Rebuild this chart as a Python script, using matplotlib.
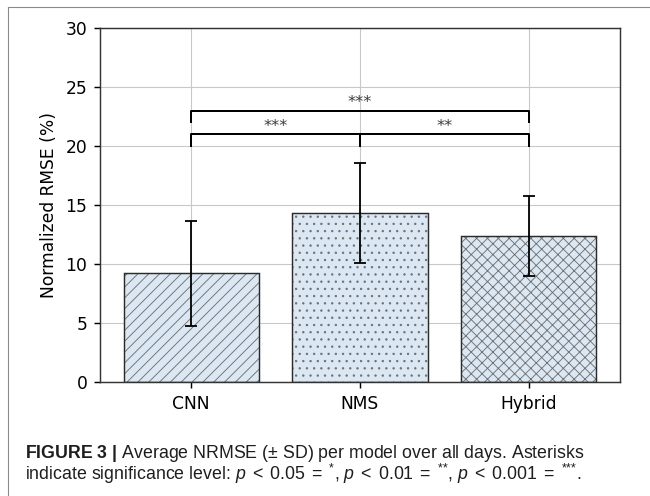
import numpy as np
import matplotlib
matplotlib.use('Agg')
import matplotlib.pyplot as plt
from matplotlib.lines import Line2D

# Datos
modelos = ['CNN', 'NMS', 'Hybrid']
nrmse = [9.2, 14.3, 12.4]
sd = [4.45, 4.25, 3.4]
tramas = ['////', '...', 'xxxx']

# pares comparados: (i, j, altura, texto)
comparaciones = [(0, 1, 21, '***'), (1, 2, 21, '**'), (0, 2, 23, '***')]

plt.rcParams['mathtext.fontset'] = 'custom'
plt.rcParams['mathtext.rm'] = 'Liberation Sans'
plt.rcParams['mathtext.it'] = 'Liberation Sans:italic'
plt.rcParams['mathtext.bf'] = 'Liberation Sans:bold'
plt.rcParams['hatch.linewidth'] = 0.5

fig = plt.figure(figsize=(5.0, 496 / 130), dpi=130)
ax = fig.add_axes([100 / 650, 1 - 382 / 496, 520 / 650, 354 / 496])

x = np.arange(len(modelos))
ax.bar(x, nrmse, width=0.8, color='#dbe8f4', edgecolor='#707070',
       hatch=tramas, linewidth=0, zorder=2)
ax.bar(x, nrmse, width=0.8, fill=False, edgecolor='#2b2b2b',
       linewidth=0.8, zorder=3)
ax.errorbar(x, nrmse, yerr=sd, fmt='none', ecolor='black',
            elinewidth=1.0, capsize=3.5, capthick=1.0, zorder=4)

# corchetes de significancia
for i, j, h, txt in comparaciones:
    ax.plot([x[i], x[i], x[j], x[j]], [h - 1, h, h, h - 1],
            color='black', linewidth=1.1, zorder=5)
    ax.text((x[i] + x[j]) / 2, h + 0.02, txt, ha='center', va='bottom',
            fontsize=9, color='#3a3a3a', zorder=5)

ax.set_ylim(0, 30)
ax.set_xticks(x)
ax.set_xticklabels(modelos)
ax.tick_params(labelsize=9.5)
ax.set_ylabel('Normalized RMSE (%)', fontsize=9.5)
ax.grid(True, color='#c8c8c8', linewidth=0.6, zorder=0)
ax.set_axisbelow(True)
for s in ax.spines.values():
    s.set_color('#333333')

# marco y pie de figura
fig.add_artist(Line2D([8 / 650, 1], [1 - 7 / 496] * 2, color='#8a8a8a',
                      linewidth=0.6, transform=fig.transFigure))
fig.add_artist(Line2D([8 / 650] * 2, [0, 1 - 7 / 496], color='#8a8a8a',
                      linewidth=0.6, transform=fig.transFigure))

fig.text(25 / 650, 1 - 458 / 496,
         r'$\bf{FIGURE\ 3\ |}$ Average NRMSE (± SD) per model over all days. Asterisks',
         fontsize=9.8, family='Liberation Sans', va='baseline', color='#1e1e1e')
fig.text(25 / 650, 1 - 480 / 496,
         r'indicate significance level: $p\;<\;0.05\;=\;{}^{\text{*}}$, '
         r'$p\;<\;0.01\;=\;{}^{\text{**}}$, $p\;<\;0.001\;=\;{}^{\text{***}}$.',
         fontsize=9.8, family='Liberation Sans', va='baseline', color='#1e1e1e')

fig.savefig('out.png', dpi=130)
